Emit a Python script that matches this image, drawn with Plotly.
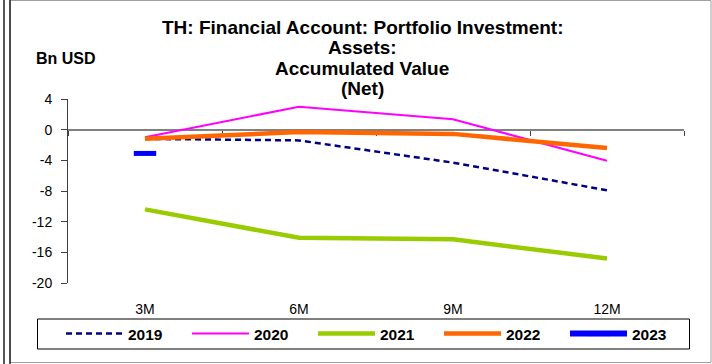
import plotly.graph_objects as go

# Quarter-end horizons
periods = ["3M", "6M", "9M", "12M"]

# Accumulated net portfolio investment assets, Bn USD
y2019 = [-1.2, -1.4, -4.3, -7.9]
y2020 = [-1.0, 3.0, 1.35, -4.05]
y2021 = [-10.4, -14.1, -14.3, -16.8]
y2022 = [-1.2, -0.3, -0.55, -2.4]
y2023 = [-3.1]

y_ticks = [4, 0, -4, -8, -12, -16, -20]

title_lines = ["TH: Financial Account: Portfolio Investment:", "Assets:",
               "Accumulated Value", "(Net)"]

W, H = 712, 364
L, R, T, B = 68, 28, 99, 81
PW, PH = W - L - R, H - T - B


def px_x(px):
    return (px - L) / PW


def px_y(py):
    return (H - B - py) / PH


FONT = "Liberation Sans, Arial, sans-serif"

fig = go.Figure()
fig.add_trace(go.Scatter(x=periods, y=y2019, name="2019", mode="lines",
                         line=dict(color="#000080", width=2.5, dash="6px,4px")))
fig.add_trace(go.Scatter(x=periods, y=y2020, name="2020", mode="lines",
                         line=dict(color="#FF00FF", width=2)))
fig.add_trace(go.Scatter(x=periods, y=y2021, name="2021", mode="lines",
                         line=dict(color="#99CC00", width=4.5)))
fig.add_trace(go.Scatter(x=periods, y=y2022, name="2022", mode="lines",
                         line=dict(color="#FF6600", width=4.5)))
fig.add_trace(go.Scatter(x=periods[:len(y2023)], y=y2023, name="2023",
                         mode="lines+markers", xaxis="x2",
                         line=dict(color="#0000FF", width=6),
                         marker=dict(symbol="line-ew", size=16,
                                     line=dict(color="#0000FF", width=5))))

fig.update_layout(
    width=W, height=H,
    margin=dict(l=L, r=R, t=T, b=B),
    paper_bgcolor="white", plot_bgcolor="white",
    font=dict(family=FONT, size=14, color="black"),
    showlegend=True,
    legend=dict(orientation="h", x=px_x(691), xanchor="right",
                y=px_y(334), yanchor="middle",
                itemwidth=57, entrywidth=54, entrywidthmode="pixels",
                font=dict(family=FONT, size=15.5, color="black", weight="bold"),
                bgcolor="rgba(0,0,0,0)", borderwidth=0, tracegroupgap=0),
    xaxis=dict(type="category", categoryarray=periods, range=[-0.5, 3.5],
               showline=False, ticks="", showgrid=False, zeroline=False,
               automargin=False, ticklabelstandoff=16,
               tickfont=dict(family=FONT, size=14, color="black")),
    xaxis2=dict(type="category", categoryarray=periods, range=[-0.5, 3.5],
                overlaying="x", anchor="free", position=20 / 24,
                showticklabels=False, tickson="boundaries", ticks="outside",
                ticklen=5, tickcolor="#404040", showline=True,
                linecolor="#808080", linewidth=2, showgrid=False,
                zeroline=False, automargin=False, layer="below traces"),
    yaxis=dict(range=[-20, 4], tickvals=y_ticks,
               ticktext=[str(v) for v in y_ticks],
               ticks="outside", ticklen=6, tickcolor="#404040",
               showline=True, linecolor="#404040", linewidth=1,
               showgrid=False, zeroline=False, automargin=False,
               ticklabelstandoff=6,
               tickfont=dict(family=FONT, size=14, color="black")),
)

# Title, one annotation per line
for line_text, py in zip(title_lines, [27, 47.5, 68, 88.5]):
    fig.add_annotation(
        text=line_text, xref="paper", yref="paper", x=px_x(362), y=px_y(py),
        xanchor="center", yanchor="middle", showarrow=False,
        font=dict(family=FONT, size=19, color="black", weight="bold"))
fig.add_annotation(
    text="Bn USD", xref="paper", yref="paper", x=px_x(66), y=px_y(58),
    xanchor="center", yanchor="middle", showarrow=False,
    font=dict(family=FONT, size=16, color="black", weight="bold"))

# Chart frame, side rules and legend box
fig.add_shape(type="rect", xref="paper", yref="paper",
              x0=px_x(10), x1=px_x(711), y0=px_y(362.5), y1=px_y(0.5),
              line=dict(color="#A0A0A0", width=1))
for xv in (4, 10):
    fig.add_shape(type="line", xref="paper", yref="paper",
                  x0=px_x(xv), x1=px_x(xv), y0=px_y(0), y1=px_y(364),
                  line=dict(color="#202020", width=1.5))
fig.add_shape(type="rect", xref="paper", yref="paper",
              x0=px_x(37.5), x1=px_x(689.5), y0=px_y(349), y1=px_y(319),
              line=dict(color="black", width=1))

fig.write_html("out.html")
